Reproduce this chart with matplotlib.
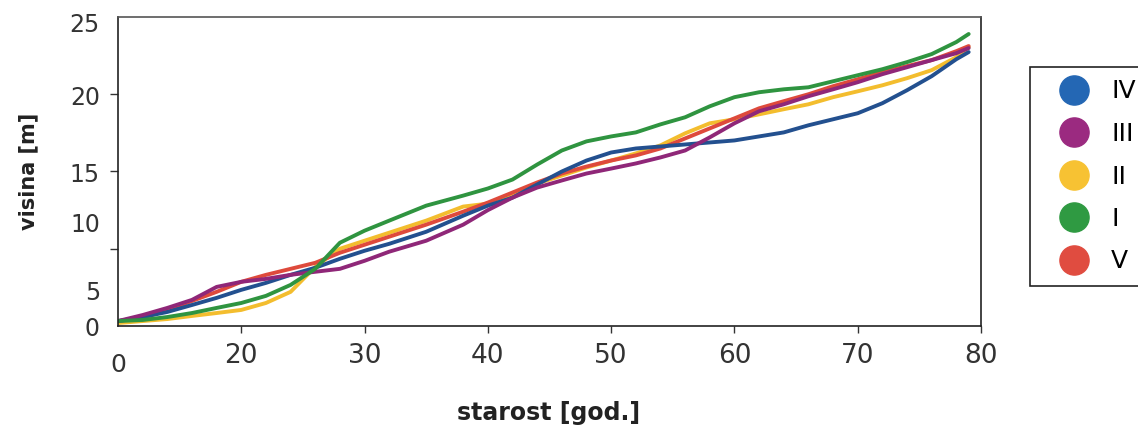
import matplotlib
matplotlib.use("Agg")
import matplotlib.pyplot as plt
from matplotlib.lines import Line2D

# age grid (years) and height (m) per site class
age = [10, 12, 14, 16, 18, 20, 22, 24, 26, 28, 30, 32, 35, 38, 40, 42, 44, 46,
       48, 50, 52, 54, 56, 58, 60, 62, 64, 66, 68, 70, 72, 74, 76, 78, 79]

h_iv = [5.32, 5.58, 5.91, 6.36, 6.82, 7.34, 7.79, 8.31, 8.77, 9.35, 9.87, 10.32,
        11.10, 12.14, 12.79, 13.31, 14.16, 15.00, 15.71, 16.23, 16.49, 16.62,
        16.75, 16.88, 17.01, 17.27, 17.53, 17.99, 18.38, 18.77, 19.42, 20.26,
        21.17, 22.27, 22.73]
h_iii = [5.32, 5.71, 6.17, 6.69, 7.53, 7.86, 8.05, 8.31, 8.51, 8.70, 9.22, 9.81,
         10.52, 11.56, 12.50, 13.31, 13.96, 14.42, 14.87, 15.19, 15.52, 15.91,
         16.36, 17.21, 18.12, 18.90, 19.35, 19.87, 20.32, 20.78, 21.30, 21.75,
         22.21, 22.66, 22.99]
h_ii = [5.19, 5.32, 5.45, 5.65, 5.84, 6.04, 6.49, 7.21, 8.83, 10.00, 10.52, 11.04,
        11.82, 12.73, 12.92, 13.44, 14.22, 14.74, 15.26, 15.71, 16.17, 16.69,
        17.47, 18.12, 18.38, 18.70, 19.03, 19.35, 19.81, 20.19, 20.58, 21.04,
        21.56, 22.40, 23.05]
h_i = [5.32, 5.39, 5.58, 5.84, 6.17, 6.49, 6.95, 7.66, 8.70, 10.39, 11.17, 11.82,
       12.79, 13.44, 13.90, 14.48, 15.45, 16.36, 16.95, 17.27, 17.53, 18.05,
       18.51, 19.22, 19.81, 20.13, 20.32, 20.45, 20.84, 21.23, 21.62, 22.08,
       22.60, 23.38, 23.90]
h_v = [5.32, 5.52, 6.04, 6.62, 7.21, 7.86, 8.31, 8.70, 9.09, 9.74, 10.26, 10.78,
       11.56, 12.40, 12.99, 13.64, 14.29, 14.87, 15.32, 15.71, 16.04, 16.49,
       17.14, 17.79, 18.44, 19.09, 19.55, 20.00, 20.52, 20.97, 21.43, 21.82,
       22.21, 22.79, 23.12]

labels = ["IV", "III", "II", "I", "V"]
series = [h_iv, h_iii, h_ii, h_i, h_v]
colors = ["#23508f", "#8f2778", "#f3bd2e", "#2f9440", "#de4a3c"]
legend_colors = ["#2467b4", "#9b2a80", "#f7c233", "#2f9a42", "#e04c40"]

x_ticks = [20, 30, 40, 50, 60, 70, 80]
# the scanned y labels do not sit on the tick marks at the bottom
y_label_pos = [5.0, 7.3, 11.7, 14.95, 19.95, 24.65]
y_label_txt = ["0", "5", "10", "15", "20", "25"]
y_tick_marks = [5, 10, 15, 20]

fig = plt.figure(figsize=(11.38, 4.28), dpi=100)
ax = fig.add_axes([118 / 1138, 1 - 326 / 428, (981 - 118) / 1138, (326 - 17) / 428])

# draw order: back to front
for i in [2, 4, 0, 1, 3]:
    ax.plot(age, series[i], color=colors[i], lw=2.8, solid_capstyle="round")

ax.set_xlim(10, 80)
ax.set_ylim(5, 25)

ax.set_xticks(x_ticks)
ax.set_xticklabels([str(t) for t in x_ticks])
ax.tick_params(axis="x", direction="out", length=5, width=1, pad=7,
               labelsize=19, labelcolor="#333333", color="#333333")

ax.set_yticks(y_label_pos)
ax.set_yticklabels(y_label_txt)
ax.set_yticks(y_tick_marks, minor=True)
ax.tick_params(axis="y", which="major", length=0, pad=13, labelsize=17,
               labelcolor="#333333")
ax.tick_params(axis="y", which="minor", direction="out", length=6, width=1,
               color="#333333")

for s in ax.spines.values():
    s.set_color("#222222")
    s.set_linewidth(1.2)
ax.spines["top"].set_color("#555555")

# origin label for the x axis
fig.text(118 / 1138, 1 - 365 / 428, "0", ha="center", va="center",
         fontsize=18, color="#333333")

fig.text(549 / 1138, 1 - 413 / 428, "starost [god.]", ha="center", va="center",
         fontsize=17, fontweight="bold", color="#222222")
fig.text(28 / 1138, 1 - 171 / 428, "visina [m]", ha="center", va="center",
         rotation=90, fontsize=15, fontweight="bold", color="#222222")

handles = [Line2D([], [], ls="none", marker="o", markersize=21,
                  markerfacecolor=c, markeredgecolor=c) for c in legend_colors]
leg = fig.legend(handles, labels, loc="upper left",
                 bbox_to_anchor=(1030 / 1138, 1 - 67 / 428),
                 fontsize=18, frameon=True, fancybox=False, framealpha=1,
                 edgecolor="#222222", handlelength=2.5, handletextpad=0.25,
                 labelspacing=0.74, borderpad=0.5, borderaxespad=0)
leg.get_frame().set_linewidth(1.2)

fig.savefig("out.png", dpi=100)
